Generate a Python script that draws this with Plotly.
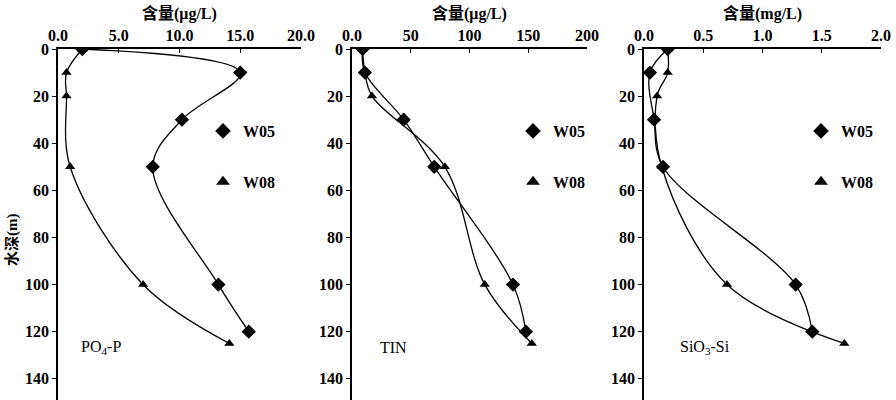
import plotly.graph_objects as go

# ---- data ----
depth_w05 = [0, 10, 30, 50, 100, 120]
depth_w08 = [0, 10, 20, 50, 100, 125]
po4_w05 = [2.0, 15.0, 10.2, 7.8, 13.2, 15.7]
po4_w08 = [2.0, 0.7, 0.7, 1.0, 7.0, 14.1]
tin_w05 = [9, 11, 44, 70, 137, 148]
tin_w08 = [9, 11, 17, 79, 113, 153]
si_w05 = [0.20, 0.05, 0.085, 0.16, 1.28, 1.42]
si_w08 = [0.20, 0.20, 0.11, 0.15, 0.70, 1.69]

series_names = ["W05", "W08"]
panel_labels = ["PO<sub>4</sub>-P", "TIN", "SiO<sub>3</sub>-Si"]
x_titles = ["含量(μg/L)", "含量(μg/L)", "含量(mg/L)"]
x_ranges = [[0, 20], [0, 200], [0, 2.0]]
x_tickvals = [[0, 5, 10, 15, 20], [0, 50, 100, 150, 200], [0, 0.5, 1.0, 1.5, 2.0]]
x_ticktext = [["0.0", "5.0", "10.0", "15.0", "20.0"],
              ["0.0", "50", "100", "150", "200"],
              ["0.0", "0.5", "1.0", "1.5", "2.0"]]
y_tickvals = [0, 20, 40, 60, 80, 100, 120, 140]
y_title = "水深(m)"

W, H = 896, 400
TOP = 49
panel_px = [(58, 301), (352, 587), (644, 881)]
legend_px = [203, 513, 801]
label_px = [79, 378, 678]

SERIF = "'Liberation Serif', 'Times New Roman', 'Noto Sans CJK SC', serif"
CJK = "'Liberation Serif', 'Noto Sans CJK SC', serif"

fig = go.Figure()
data = [(po4_w05, po4_w08), (tin_w05, tin_w08), (si_w05, si_w08)]
symbols = ["diamond", "triangle-up"]
sizes = [11, 9]

def ypaper(py):
    return (H - py) / (H - TOP)

for i, (v05, v08) in enumerate(data):
    xa = "x" if i == 0 else f"x{i+1}"
    ya = "y" if i == 0 else f"y{i+1}"
    leg = "legend" if i == 0 else f"legend{i+1}"
    for j, (vals, depths) in enumerate([(v05, depth_w05), (v08, depth_w08)]):
        fig.add_trace(go.Scatter(
            x=vals, y=depths, mode="lines",
            line=dict(color="black", width=1.3, shape="spline", smoothing=1.0),
            xaxis=xa, yaxis=ya, showlegend=False, hoverinfo="skip"))
        fig.add_trace(go.Scatter(
            x=vals, y=depths, mode="markers", name=series_names[j],
            marker=dict(symbol=symbols[j], size=sizes[j], color="black"),
            xaxis=xa, yaxis=ya, legend=leg, legendgroup=f"g{i}{j}",
            showlegend=True))

layout = dict(
    width=W, height=H,
    margin=dict(l=0, r=0, t=TOP, b=0, autoexpand=False),
    paper_bgcolor="white", plot_bgcolor="white",
    font=dict(family=SERIF, size=15, color="black"),
    annotations=[],
)

for i in range(3):
    sfx = "" if i == 0 else str(i + 1)
    x0, x1 = panel_px[i]
    layout[f"xaxis{sfx}"] = dict(
        domain=[x0 / W, x1 / W], range=x_ranges[i], side="top",
        anchor="y" + sfx, showline=True, linecolor="black", linewidth=1.5,
        ticks="inside", ticklen=4, tickwidth=1.2, tickcolor="black",
        tickvals=x_tickvals[i], ticktext=x_ticktext[i],
        tickfont=dict(family=SERIF, size=16, color="black", weight="bold"),
        showgrid=False, zeroline=False, fixedrange=True)
    layout[f"yaxis{sfx}"] = dict(
        domain=[0, 1], range=[149, 0], anchor="x" + sfx,
        showline=True, linecolor="black", linewidth=1.5,
        ticks="outside", ticklen=4, tickwidth=1.2, tickcolor="black",
        tickvals=y_tickvals,
        tickfont=dict(family=SERIF, size=16, color="black", weight="bold"),
        showgrid=False, zeroline=False, fixedrange=True)
    leg = "legend" if i == 0 else f"legend{i+1}"
    layout[leg] = dict(
        x=legend_px[i] / W, xanchor="left", y=ypaper(114), yanchor="top",
        bgcolor="rgba(0,0,0,0)", traceorder="grouped", tracegroupgap=27,
        font=dict(family=SERIF, size=16, color="black", weight="bold"),
        itemsizing="constant")
    layout["annotations"].append(dict(
        x=(x0 + x1) / 2 / W, y=ypaper(14), xref="paper", yref="paper",
        text=x_titles[i], showarrow=False, xanchor="center", yanchor="middle",
        font=dict(family=CJK, size=16, color="black", weight="bold")))
    layout["annotations"].append(dict(
        x=label_px[i] / W, y=ypaper(347), xref="paper", yref="paper",
        text=panel_labels[i], showarrow=False, xanchor="left", yanchor="middle",
        font=dict(family=SERIF, size=16, color="black")))

layout["annotations"].append(dict(
    x=12 / W, y=ypaper(240), xref="paper", yref="paper", text=y_title,
    showarrow=False, textangle=-90, xanchor="center", yanchor="middle",
    font=dict(family=CJK, size=15, color="black", weight="bold")))

fig.update_layout(**layout)
fig.write_html("out.html", config={"displayModeBar": False},
               post_script="document.body.style.margin='0';")
